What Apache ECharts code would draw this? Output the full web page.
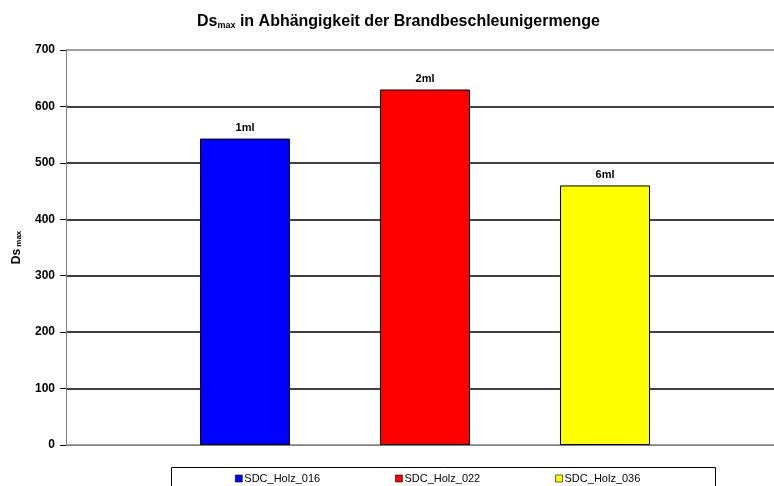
<!DOCTYPE html>
<html>
<head>
<meta charset="utf-8">
<script src="https://cdn.jsdelivr.net/npm/echarts@6/dist/echarts.min.js"></script>
<style>
  html, body { margin: 0; padding: 0; background: #fff; }
  #chart { width: 774px; height: 486px; }
</style>
</head>
<body>
<div id="chart"></div>
<script>
// Ds_max per sample, with the accelerant amount shown above each bar
const categories = ['Ds max'];
const seriesNames = ['SDC_Holz_016', 'SDC_Holz_022', 'SDC_Holz_036'];
const seriesValues = [543, 630, 460];
const barLabels = ['1ml', '2ml', '6ml'];
const seriesColors = ['#0000FF', '#FF0000', '#FFFF00'];
const yTicks = [0, 100, 200, 300, 400, 500, 600, 700];

const font = '"Liberation Sans", Arial, sans-serif';

const series = seriesNames.map((name, i) => ({
  name: name,
  type: 'bar',
  data: [seriesValues[i]],
  barWidth: 90,
  barGap: '100%',
  itemStyle: { color: seriesColors[i], borderColor: '#000', borderWidth: 1 },
  label: {
    show: true,
    position: 'top',
    distance: 5,
    formatter: () => barLabels[i],
    fontFamily: font,
    fontWeight: 'bold',
    fontSize: 11,
    color: '#000'
  }
}));

const chart = echarts.init(document.getElementById('chart'), null, { renderer: 'canvas' });
chart.setOption({
  animation: false,
  backgroundColor: '#fff',
  title: {
    text: '{a|Ds}{b|max}{a| in Abhängigkeit der Brandbeschleunigermenge}',
    left: 192,
    top: 8,
    textStyle: {
      rich: {
        a: { fontFamily: font, fontWeight: 'bold', fontSize: 16, color: '#000' },
        b: { fontFamily: font, fontWeight: 'bold', fontSize: 9, color: '#000', padding: [8, 0, 0, 0] }
      }
    }
  },
  // plot area runs a little past the right edge of the canvas
  grid: { left: 66, width: 718, top: 50, bottom: 41, containLabel: false, outerBoundsMode: 'none' },
  legend: {
    data: seriesNames,
    left: 230,
    top: 468,
    itemWidth: 7,
    itemHeight: 7,
    itemGap: 75,
    icon: 'rect',
    itemStyle: { borderColor: '#000', borderWidth: 0.6 },
    textStyle: { fontFamily: font, fontSize: 11, color: '#000', padding: [0, 0, 0, -3] },
    selectedMode: false
  },
  graphic: [{
    type: 'rect',
    shape: { x: 171.5, y: 467.5, width: 544, height: 40 },
    style: { fill: 'none', stroke: '#000', lineWidth: 1 },
    z: 0
  }],
  xAxis: {
    type: 'category',
    data: categories,
    axisLine: { show: true, lineStyle: { color: '#808080', width: 1 } },
    axisTick: { show: false },
    axisLabel: { show: false }
  },
  yAxis: {
    type: 'value',
    min: yTicks[0],
    max: yTicks[yTicks.length - 1],
    interval: 100,
    name: '{a|Ds}{b| max}',
    nameLocation: 'middle',
    nameGap: 43,
    nameRotate: 90,
    nameTextStyle: {
      rich: {
        a: { fontFamily: font, fontWeight: 'bold', fontSize: 12, color: '#000' },
        b: { fontFamily: font, fontWeight: 'bold', fontSize: 8, color: '#000', padding: [5, 0, 0, 0] }
      }
    },
    axisLine: { show: true, lineStyle: { color: '#808080', width: 1 } },
    axisTick: { show: true, length: 6, lineStyle: { color: '#000', width: 1 } },
    axisLabel: {
      margin: 11,
      fontFamily: font,
      fontWeight: 'bold',
      fontSize: 12,
      color: '#000'
    },
    splitLine: {
      show: true,
      lineStyle: {
        color: ['#808080', '#000', '#000', '#000', '#000', '#000', '#000', '#808080'],
        width: 1.5
      }
    }
  },
  series: series
});
</script>
</body>
</html>
